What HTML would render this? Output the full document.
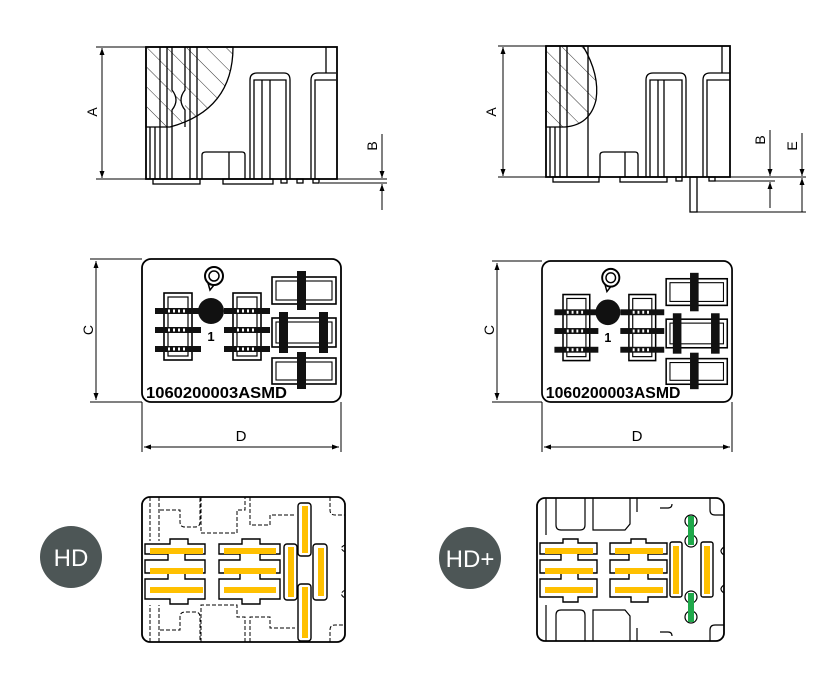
<!DOCTYPE html>
<html><head><meta charset="utf-8"><style>
html,body{margin:0;padding:0;background:#fff;}
svg{display:block;}
text{font-family:"Liberation Sans",sans-serif;}
</style></head><body>
<svg width="836" height="683" viewBox="0 0 836 683" xmlns="http://www.w3.org/2000/svg">
<defs>
<marker id="ar" markerWidth="8" markerHeight="8" refX="7" refY="4" orient="auto-start-reverse" markerUnits="userSpaceOnUse">
<path d="M0,1.5 L7,4 L0,6.5 Z" fill="#000"/></marker>
<pattern id="hatch" width="14" height="14" patternUnits="userSpaceOnUse" patternTransform="rotate(-45)">
<line x1="0" y1="0" x2="0" y2="14" stroke="#333" stroke-width="1"/></pattern>
<g id="conn">
<rect x="0" y="0" width="28" height="67" fill="#fff" stroke="#000" stroke-width="1.6"/>
<rect x="4" y="4" width="20" height="59" fill="none" stroke="#000" stroke-width="1.2"/>
<rect x="-9" y="15" width="46" height="6" fill="#111"/>
<rect x="-9" y="34" width="46" height="6" fill="#111"/>
<rect x="-9" y="53" width="46" height="6" fill="#111"/>
<g fill="#fff"><rect x="4" y="16.5" width="2" height="3"/><rect x="9" y="16.5" width="2" height="3"/><rect x="14" y="16.5" width="2" height="3"/><rect x="19" y="16.5" width="2" height="3"/>
<rect x="4" y="35.5" width="2" height="3"/><rect x="9" y="35.5" width="2" height="3"/><rect x="14" y="35.5" width="2" height="3"/><rect x="19" y="35.5" width="2" height="3"/>
<rect x="4" y="54.5" width="2" height="3"/><rect x="9" y="54.5" width="2" height="3"/><rect x="14" y="54.5" width="2" height="3"/><rect x="19" y="54.5" width="2" height="3"/></g>
</g>
<g id="top">
<rect x="0" y="0" width="199" height="143" rx="9" fill="#fff" stroke="#000" stroke-width="1.8"/>
<circle cx="72" cy="17" r="9" fill="none" stroke="#000" stroke-width="2"/>
<circle cx="72" cy="17" r="5" fill="none" stroke="#000" stroke-width="1.5"/>
<path d="M66,24 L68,31 L72,26" fill="none" stroke="#000" stroke-width="1.5"/>
<use href="#conn" x="22" y="34"/>
<use href="#conn" x="91" y="34"/>
<circle cx="69" cy="52" r="13" fill="#111"/>
<text x="69" y="82" font-size="13" font-weight="bold" text-anchor="middle">1</text>
<rect x="130" y="18" width="64" height="27" fill="none" stroke="#000" stroke-width="1.6"/>
<rect x="134" y="22" width="56" height="19" fill="none" stroke="#000" stroke-width="1.1"/>
<rect x="155" y="12" width="9" height="39" fill="#111"/>
<rect x="130" y="59" width="64" height="29" fill="none" stroke="#000" stroke-width="1.6"/>
<rect x="134" y="63" width="56" height="21" fill="none" stroke="#000" stroke-width="1.1"/>
<rect x="137" y="53" width="9" height="41" fill="#111"/>
<rect x="177" y="53" width="9" height="41" fill="#111"/>
<rect x="130" y="99" width="64" height="26" fill="none" stroke="#000" stroke-width="1.6"/>
<rect x="134" y="103" width="56" height="18" fill="none" stroke="#000" stroke-width="1.1"/>
<rect x="155" y="93" width="9" height="37" fill="#111"/>
<text x="4" y="139" font-size="16" font-weight="bold" textLength="141" lengthAdjust="spacingAndGlyphs">1060200003ASMD</text>
</g>
</defs>

<!-- LEFT SIDE VIEW -->
<g stroke="#000" fill="none" stroke-width="1.3">
<rect x="146" y="47" width="191" height="132" stroke-width="1.8"/>
<path d="M146,127 L146,47 L233,47 Q233,110 170,127 Z" fill="url(#hatch)" stroke="#000"/>
<path d="M160,47 L160,179 M167,47 L167,179 M190,47 L190,179 M197,47 L197,179 M150,127 L150,179 M155,127 L155,179 M172,127 L172,179"/>
<path d="M172,47 L172,90 Q180,100 172,110 L172,127 M185,47 L185,90 Q177,100 185,110 L185,127" fill="#fff"/>
<path d="M250,179 L250,80 Q250,73 257,73 L284,73 Q290,73 290,80 L290,179"/>
<path d="M254,179 L254,80 L286,80 L286,179 M262,80 L262,179 M270,80 L270,179"/>
<path d="M311,179 L311,80 Q311,73 318,73 L336,73 M315,179 L315,80 L336,80 M326,47 L326,73"/>
<path d="M202,179 L202,155 Q202,152 206,152 L242,152 Q245,152 245,155 L245,179 M229,152 L229,179"/>
<rect x="153" y="179" width="47" height="5"/><rect x="223" y="179" width="50" height="5"/>
<rect x="281" y="179" width="6" height="4"/><rect x="297" y="179" width="6" height="4"/><rect x="313" y="179" width="6" height="4"/>
</g>
<g stroke="#000" stroke-width="1">
<line x1="96" y1="47" x2="146" y2="47"/><line x1="96" y1="179" x2="146" y2="179"/>
<line x1="102" y1="48" x2="102" y2="178" marker-end="url(#ar)" marker-start="url(#ar)"/>
<line x1="320" y1="183" x2="387" y2="183"/><line x1="337" y1="179" x2="387" y2="179"/>
<line x1="382" y1="134" x2="382" y2="178" marker-end="url(#ar)"/>
<line x1="382" y1="210" x2="382" y2="184" marker-end="url(#ar)"/>
</g>
<text transform="translate(97,112) rotate(-90)" font-size="14" text-anchor="middle">A</text>
<text transform="translate(377,146) rotate(-90)" font-size="14" text-anchor="middle">B</text>

<!-- RIGHT SIDE VIEW -->
<g stroke="#000" fill="none" stroke-width="1.3">
<rect x="546" y="46" width="184" height="131" stroke-width="1.8"/>
<path d="M546,127 L546,46 L583,46 Q600,75 596,100 Q590,125 565,127 Z" fill="url(#hatch)"/>
<path d="M560,46 L560,177 M567,46 L567,177 M588,46 L588,177 M550,127 L550,177 M555,127 L555,177"/>
<path d="M646,177 L646,80 Q646,73 653,73 L680,73 Q686,73 686,80 L686,177 M650,177 L650,80 L682,80 L682,177 M658,80 L658,177 M664,80 L664,177"/>
<path d="M703,177 L703,80 Q703,73 710,73 L730,73 M707,177 L707,80 L730,80 M722,46 L722,73"/>
<path d="M600,177 L600,155 Q600,152 604,152 L635,152 Q638,152 638,155 L638,177 M625,152 L625,177"/>
<rect x="553" y="177" width="46" height="5"/><rect x="620" y="177" width="47" height="5"/>
<rect x="676" y="177" width="6" height="4"/><rect x="709" y="177" width="6" height="4"/>
<rect x="690" y="177" width="7" height="35"/>
</g>
<g stroke="#000" stroke-width="1">
<line x1="498" y1="46" x2="546" y2="46"/><line x1="498" y1="177" x2="546" y2="177"/>
<line x1="503" y1="47" x2="503" y2="176" marker-end="url(#ar)" marker-start="url(#ar)"/>
<line x1="730" y1="177" x2="806" y2="177"/><line x1="715" y1="181" x2="775" y2="181"/><line x1="697" y1="212" x2="806" y2="212"/>
<line x1="770" y1="130" x2="770" y2="176" marker-end="url(#ar)"/>
<line x1="770" y1="208" x2="770" y2="182" marker-end="url(#ar)"/>
<line x1="802" y1="133" x2="802" y2="176" marker-end="url(#ar)"/>
<line x1="802" y1="212" x2="802" y2="178" marker-end="url(#ar)"/>
</g>
<text transform="translate(496,112) rotate(-90)" font-size="14" text-anchor="middle">A</text>
<text transform="translate(765,140) rotate(-90)" font-size="14" text-anchor="middle">B</text>
<text transform="translate(797,146) rotate(-90)" font-size="14" text-anchor="middle">E</text>

<!-- TOP VIEWS -->
<use href="#top" transform="translate(142,259)"/>
<use href="#top" transform="translate(542,261) scale(0.955,0.986)"/>
<g stroke="#000" stroke-width="1">
<line x1="90" y1="259" x2="142" y2="259"/><line x1="90" y1="402" x2="142" y2="402"/>
<line x1="96" y1="330" x2="96" y2="261" marker-end="url(#ar)"/><line x1="96" y1="330" x2="96" y2="400" marker-end="url(#ar)"/>
<line x1="142" y1="402" x2="142" y2="452"/><line x1="341" y1="402" x2="341" y2="452"/>
<line x1="241" y1="447" x2="144" y2="447" marker-end="url(#ar)"/><line x1="241" y1="447" x2="339" y2="447" marker-end="url(#ar)"/>
<line x1="492" y1="261" x2="542" y2="261"/><line x1="492" y1="402" x2="542" y2="402"/>
<line x1="497" y1="330" x2="497" y2="263" marker-end="url(#ar)"/><line x1="497" y1="330" x2="497" y2="400" marker-end="url(#ar)"/>
<line x1="542" y1="402" x2="542" y2="452"/><line x1="732" y1="402" x2="732" y2="452"/>
<line x1="637" y1="447" x2="544" y2="447" marker-end="url(#ar)"/><line x1="637" y1="447" x2="730" y2="447" marker-end="url(#ar)"/>
</g>
<text transform="translate(93,330) rotate(-90)" font-size="14" text-anchor="middle">C</text>
<text transform="translate(494,330) rotate(-90)" font-size="14" text-anchor="middle">C</text>
<text x="241" y="441" font-size="15" text-anchor="middle">D</text>
<text x="637" y="441" font-size="15" text-anchor="middle">D</text>

<!-- HD -->
<circle cx="71" cy="557" r="31" fill="#4d5656"/>
<text x="71" y="566" font-size="24" fill="#fff" text-anchor="middle">HD</text>
<rect x="142" y="497" width="203" height="145" rx="8" fill="#fff" stroke="#000" stroke-width="1.8"/>
<g fill="none" stroke="#000" stroke-width="1" stroke-dasharray="4,2">
<path d="M150,497 V541 M159,497 V541 M160,510 H180 V522 Q180,527 185,527 H195 Q200,527 200,522 V497 M201,497 V533 H237 V510 H245 V497 M250,497 V525 H270 V515 H295 M330,497 V510 Q330,515 335,515 H345"/>
<path d="M150,642 V605 M159,642 V605 M160,630 H180 V617 Q180,612 185,612 H195 Q200,612 200,617 V642 M201,642 V605 H237 V617 H245 V642 M250,642 V617 H270 V628 H295 M330,642 V630 Q330,625 335,625 H345"/>
<path d="M345,545 Q338,548 345,552 M345,590 Q338,594 345,598"/>
</g>
<g fill="#fff" stroke="#000" stroke-width="1.4">
<path d="M145,544 H170 V539 H188 V544 H205 V554 H185 V560 H205 V573 H185 V579 H205 V599 H188 V604 H170 V599 H145 V579 H168 V573 H145 V560 H168 V554 H145 Z"/>
<path d="M219,544 H242 V539 H260 V544 H280 V554 H260 V560 H280 V573 H260 V579 H280 V599 H260 V604 H242 V599 H219 V579 H240 V573 H219 V560 H240 V554 H219 Z"/>
<rect x="284" y="544" width="13" height="56" rx="3"/>
<rect x="298" y="503" width="13" height="53" rx="3"/>
<rect x="298" y="584" width="13" height="57" rx="3"/>
<rect x="313" y="544" width="14" height="56" rx="3"/>
</g>
<g fill="#ffc000">
<rect x="150" y="548" width="53" height="6"/><rect x="150" y="568" width="53" height="6"/><rect x="150" y="587" width="53" height="6"/>
<rect x="224" y="548" width="52" height="6"/><rect x="224" y="568" width="52" height="6"/><rect x="224" y="587" width="52" height="6"/>
<rect x="302" y="506" width="6" height="47"/><rect x="288" y="547" width="6" height="50"/><rect x="318" y="548" width="6" height="48"/><rect x="302" y="587" width="6" height="51"/>
</g>

<!-- HD+ -->
<circle cx="470" cy="558" r="31" fill="#4d5656"/>
<text x="470" y="567" font-size="24" fill="#fff" text-anchor="middle">HD+</text>
<rect x="537" y="498" width="187" height="143" rx="8" fill="#fff" stroke="#000" stroke-width="1.8"/>
<g fill="none" stroke="#000" stroke-width="1.2">
<path d="M546,498 V535 M556,498 V525 Q556,530 561,530 H580 Q585,530 585,525 V498 M593,498 V530 H625 L630,524 V498 M637,498 V512 M660,508 H668 Q672,508 672,504 M710,498 V510 Q710,515 715,515 H724"/>
<path d="M546,641 V605 M556,641 V615 Q556,610 561,610 H580 Q585,610 585,615 V641 M593,641 V610 H625 L630,616 V641 M637,641 V628 M660,632 H668 Q672,632 672,636 M710,641 V630 Q710,625 715,625 H724"/>
<path d="M724,547 Q718,551 724,555 M724,585 Q718,589 724,593"/>
<circle cx="691" cy="521" r="6"/><circle cx="691" cy="541" r="6"/>
<circle cx="691" cy="597" r="6"/><circle cx="691" cy="617" r="6"/>
</g>
<g fill="#fff" stroke="#000" stroke-width="1.4">
<path d="M540,543 H563 V539 H578 V543 H597 V554 H578 V560 H597 V573 H578 V579 H597 V597 H578 V602 H563 V597 H540 V579 H561 V573 H540 V560 H561 V554 H540 Z"/>
<path d="M610,543 H631 V539 H646 V543 H667 V554 H648 V560 H667 V573 H648 V579 H667 V597 H648 V602 H631 V597 H610 V579 H629 V573 H610 V560 H629 V554 H610 Z"/>
<rect x="670" y="542" width="12" height="55" rx="2"/>
<rect x="701" y="542" width="12" height="55" rx="2"/>
</g>
<g fill="#ffc000">
<rect x="545" y="548" width="48" height="6"/><rect x="545" y="568" width="48" height="6"/><rect x="545" y="587" width="48" height="6"/>
<rect x="615" y="548" width="48" height="6"/><rect x="615" y="568" width="48" height="6"/><rect x="615" y="587" width="48" height="6"/>
<rect x="673" y="546" width="6" height="48"/><rect x="704" y="546" width="6" height="48"/>
</g>
<g fill="#1fa84a"><rect x="688" y="516" width="6" height="29"/><rect x="688" y="593" width="6" height="29"/></g>
</svg>
</body></html>
